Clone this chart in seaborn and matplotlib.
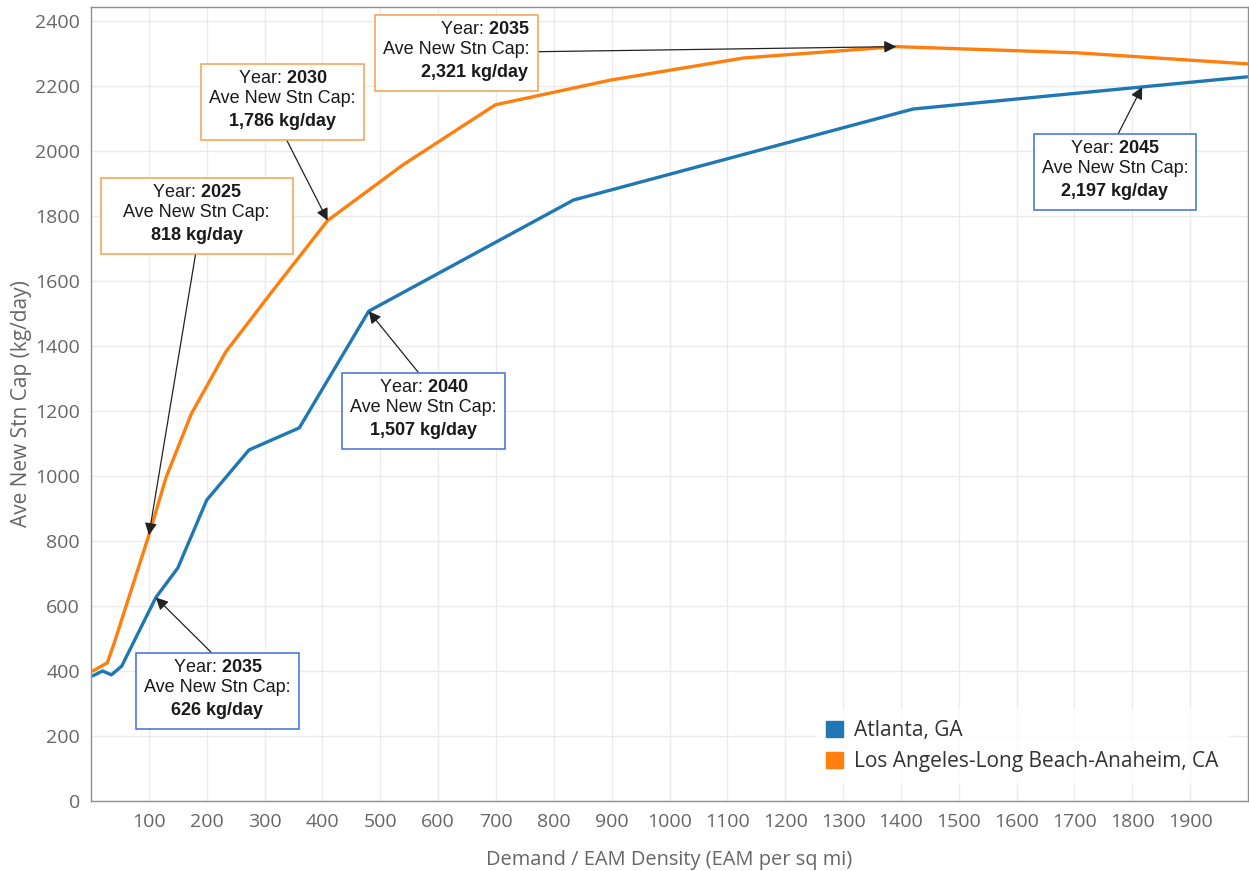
import matplotlib
matplotlib.use("Agg")
import matplotlib.pyplot as plt
import seaborn as sns
import pandas as pd
from matplotlib.patches import Patch

# ── data ─────────────────────────────────────────────────────────────────────
atl_x = [3, 20, 35, 53, 112, 150, 200, 273, 360, 480, 834, 1421, 1817, 1998]
atl_y = [385, 400, 388, 415, 626, 717, 926, 1080, 1148, 1507, 1849, 2129, 2197, 2228]
la_x = [3, 28, 40, 100, 130, 173, 233, 311, 409, 539, 699, 898, 1128, 1392, 1704, 1998]
la_y = [400, 425, 486, 818, 997, 1190, 1382, 1563, 1786, 1957, 2142, 2218, 2286, 2321, 2302, 2268]

metros = ["Atlanta, GA", "Los Angeles-Long Beach-Anaheim, CA"]
colors = ["#1f77b4", "#ff7f0e"]

x_ticks = list(range(100, 2000, 100))
y_ticks = list(range(0, 2600, 200))

# annotations: metro, year, index of the point in that metro's series
ann_metro = [1, 1, 1, 0, 0, 0]
ann_year = [2025, 2030, 2035, 2035, 2040, 2045]
ann_idx = [3, 8, 13, 4, 9, 12]

# ── build table ──────────────────────────────────────────────────────────────
df = pd.concat([
    pd.DataFrame({"density": atl_x, "cap": atl_y, "metro": metros[0]}),
    pd.DataFrame({"density": la_x, "cap": la_y, "metro": metros[1]}),
], ignore_index=True)

sns.set_style("white")
plt.rcParams["font.family"] = ["Open Sans", "DejaVu Sans"]
plt.rcParams["mathtext.fontset"] = "custom"
plt.rcParams["mathtext.rm"] = "Liberation Sans"
plt.rcParams["mathtext.bf"] = "Liberation Sans:bold"

fig = plt.figure(figsize=(12.49, 8.71), dpi=100)
ax = fig.add_axes([0.0729, 0.0804, 0.9263, 0.9116])

sns.lineplot(data=df, x="density", y="cap", hue="metro", palette=colors,
             sort=False, estimator=None, lw=2.4, ax=ax, legend=False)

ax.set_xlim(0, 2000)
ax.set_ylim(0, 2443)
ax.set_xticks(x_ticks)
ax.set_yticks(y_ticks)
ax.grid(True, color="#ebebeb", lw=1)
ax.set_axisbelow(True)
for s in ax.spines.values():
    s.set_color("#8f8f8f")
    s.set_linewidth(1)
ax.tick_params(axis="both", colors="#8f8f8f", labelcolor="#666666",
               labelsize=14, length=5, width=1, direction="out")
ax.tick_params(axis="y", pad=3)
ax.set_xlabel("Demand / EAM Density (EAM per sq mi)", fontsize=14.4,
              color="#666666", labelpad=14)
ax.set_ylabel("Ave New Stn Cap (kg/day)", fontsize=15, color="#666666",
              labelpad=2)

# ── annotation boxes ─────────────────────────────────────────────────────────
series_x = [atl_x, la_x]
series_y = [atl_y, la_y]
box_edge = ["#3c6fd8", "#f5a04e"]
text_pos = [(183, 1803), (331, 2154), (632, 2305), (219, 342), (575, 1203), (1770, 1938)]
arrow_rel = [(0.5, 0), (0.5, 0), (1, 0.5), (0.5, 1), (0.5, 1), (0.5, 1)]
mid_pad = ["   ", "", "", "", "", ""]

for m, yr, i, pos, rel, pad in zip(ann_metro, ann_year, ann_idx, text_pos,
                                    arrow_rel, mid_pad):
    px, py = series_x[m][i], series_y[m][i]
    if py >= 1000:
        val = f"{py // 1000}{{,}}{py % 1000:03d}"
    else:
        val = f"{py}"
    txt = (f"Year: $\\bf{{{yr}}}$\n"
           f"{pad}Ave New Stn Cap:{pad}\n"
           f"$\\bf{{{val}\\ kg/day}}$")
    ax.annotate(txt, xy=(px, py), xytext=pos, textcoords="data",
                ha="center", va="center",
                multialignment="right" if rel == (1, 0.5) else "center",
                family="Liberation Sans", fontsize=13, color="#1a1a1a",
                linespacing=1.25,
                bbox=dict(boxstyle="square,pad=0.45", fc="white",
                          ec=box_edge[m], lw=1.1),
                arrowprops=dict(arrowstyle="-|>", color="#222222", lw=0.9,
                                mutation_scale=18, relpos=rel,
                                shrinkA=0, shrinkB=0),
                zorder=5)

handles = [Patch(facecolor=c, edgecolor=c, label=l) for c, l in zip(colors, metros)]
leg = ax.legend(handles=handles, loc="lower right", bbox_to_anchor=(0.992, 0.01),
                frameon=True, fontsize=15, handlelength=0.8, handleheight=0.8,
                handletextpad=0.5, labelspacing=0.5, borderpad=0.5,
                fancybox=False)
leg.get_frame().set_facecolor("white")
leg.get_frame().set_edgecolor("white")
for t in leg.get_texts():
    t.set_color("#333333")

fig.savefig("out.png", dpi=100)
